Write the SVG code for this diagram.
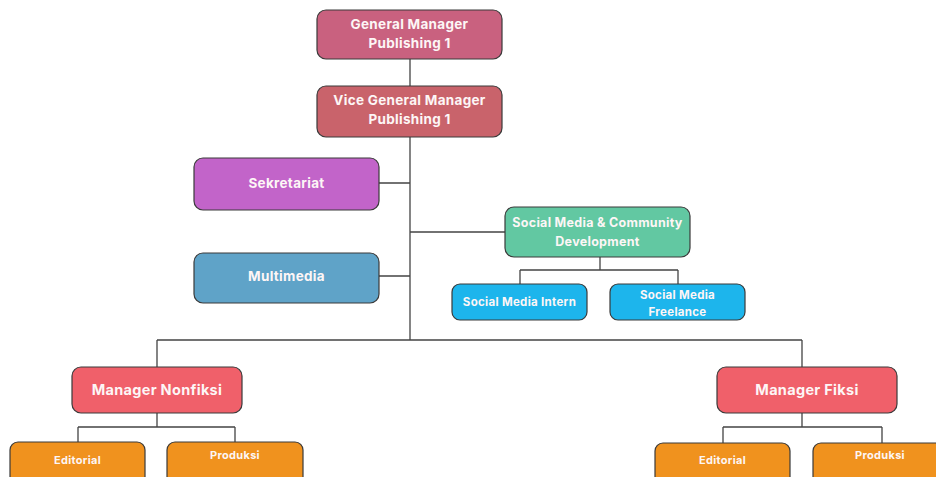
<svg xmlns="http://www.w3.org/2000/svg" width="936" height="477" viewBox="0 0 936 477">
<style>
.b{stroke:#3a3a3a;stroke-width:1.2}
.t{font-family:Inter,"Liberation Sans",sans-serif;font-weight:700;font-size:13.5px;fill:#fdf6f6;text-anchor:middle;letter-spacing:0.3px}
.m{font-size:14.5px}
.s{font-size:11px}
.st{font-size:12.5px}
.si{font-size:11.5px}
.c{fill:none;stroke:#444;stroke-width:1.3}
</style>
<rect width="936" height="477" fill="#ffffff"/>
<g id="connectors">
<path class="c" d="M410 59V86M410 137V340M410 183H379M410 276H379M410 232H505"/>
<path class="c" d="M600 257V270M520 270H678M520 270V284M678 270V284"/>
<path class="c" d="M157 340H802M157 340V367M802 340V367"/>
<path class="c" d="M157 413V427M78 427H235M78 427V442M235 427V442"/>
<path class="c" d="M802 413V427M723 427H882M723 427V443M882 427V443"/>
</g>
<g id="gm"><rect class="b" x="317" y="10" width="185" height="49" rx="9" fill="#C9617F"/><text class="t" x="409.5" y="29">General Manager</text><text class="t" x="409.5" y="48">Publishing 1</text></g>
<g id="vgm"><rect class="b" x="317" y="86" width="185" height="51" rx="9" fill="#C9636B"/><text class="t" x="409.5" y="105">Vice General Manager</text><text class="t" x="409.5" y="124">Publishing 1</text></g>
<g id="sekretariat"><rect class="b" x="194" y="158" width="185" height="52" rx="9" fill="#C264C9"/><text class="t" x="286.5" y="188">Sekretariat</text></g>
<g id="multimedia"><rect class="b" x="194" y="253" width="185" height="50" rx="9" fill="#5FA3C8"/><text class="t" x="286.5" y="281">Multimedia</text></g>
<g id="social"><rect class="b" x="505" y="207" width="185" height="50" rx="9" fill="#62C8A2"/><text class="t st" x="597.5" y="227">Social Media &amp; Community</text><text class="t st" x="597.5" y="246">Development</text></g>
<g id="intern"><rect class="b" x="452" y="284" width="135" height="36" rx="8" fill="#1DB5EC"/><text class="t si" x="519.5" y="306">Social Media Intern</text></g>
<g id="freelance"><rect class="b" x="610" y="284" width="135" height="36" rx="8" fill="#1DB5EC"/><text class="t si" x="677.5" y="299">Social Media</text><text class="t si" x="677.5" y="316">Freelance</text></g>
<g id="nonfiksi"><rect class="b" x="72" y="367" width="170" height="46" rx="9" fill="#F0606A"/><text class="t m" x="157" y="395">Manager Nonfiksi</text></g>
<g id="fiksi"><rect class="b" x="717" y="367" width="180" height="46" rx="9" fill="#F0606A"/><text class="t m" x="807" y="395">Manager Fiksi</text></g>
<g id="editorial1"><rect class="b" x="10" y="442" width="135" height="44" rx="8" fill="#F0921E"/><text class="t s" x="77.5" y="464">Editorial</text></g>
<g id="produksi1"><rect class="b" x="167" y="442" width="136" height="44" rx="8" fill="#F0921E"/><text class="t s" x="235" y="459">Produksi</text></g>
<g id="editorial2"><rect class="b" x="655" y="443" width="135" height="44" rx="8" fill="#F0921E"/><text class="t s" x="722.5" y="464">Editorial</text></g>
<g id="produksi2"><rect class="b" x="813" y="443" width="135" height="44" rx="8" fill="#F0921E"/><text class="t s" x="880" y="459">Produksi</text></g>
</svg>
